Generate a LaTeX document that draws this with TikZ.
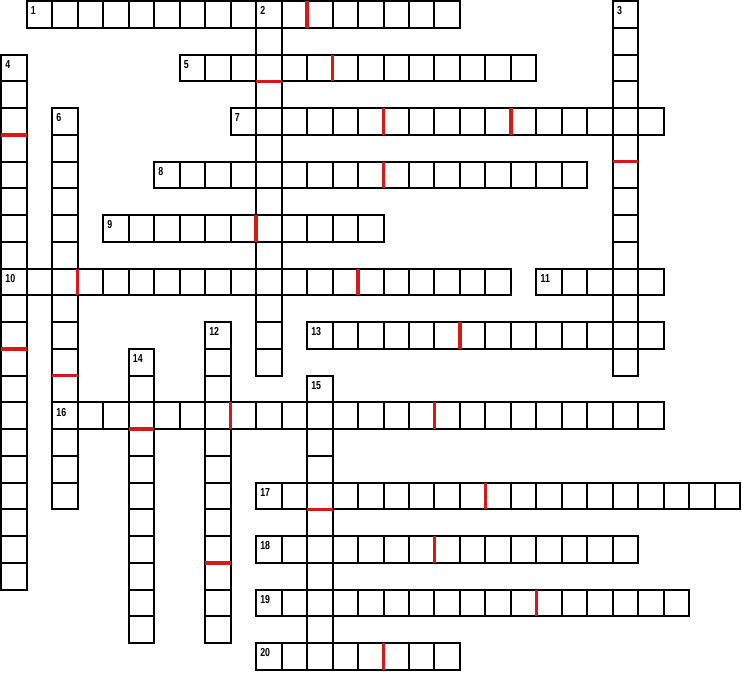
\documentclass[tikz,border=0pt]{standalone}
\usepackage{fontspec}
\usepackage{tikz}
\newfontfamily\numfont[FakeStretch=0.76]{Liberation Sans}
\definecolor{breakred}{RGB}{214,24,24}

\begin{document}
\begin{tikzpicture}[x=25.48pt,y=-26.75pt,
                        cell/.style={draw=black,line width=2pt},
                        brk/.style={draw=breakred,line width=3.5pt},
                        num/.style={anchor=north west,inner sep=0pt,xshift=4pt,yshift=-5.5pt,
                                    font=\numfont\bfseries\fontsize{11.6}{11.6}\selectfont}]
                        \useasboundingbox (-1.3pt,1pt) rectangle (740.7pt,-688pt);

                        \foreach \row/\col/\len in {0/1/17,2/7/14,4/9/17,6/6/17,8/4/11,10/0/20,10/21/5,
                                                    12/12/14,15/2/24,18/10/19,20/10/15,22/10/17,24/10/8}
                            \foreach \i in {1,...,\len}
                                \draw[cell] (\col+\i-1,\row) rectangle ++(1,1);

                        \foreach \col/\row/\len in {10/0/14,24/0/14,0/2/20,2/4/15,8/12/12,5/13/11,12/14/11}
                            \foreach \i in {1,...,\len}
                                \draw[cell] (\col,\row+\i-1) rectangle ++(1,1);

                        \foreach \row/\b in {0/12,2/13,4/15,4/20,6/15,8/10,10/3,10/14,12/18,
                                             15/9,15/17,18/19,20/17,22/21,24/15}
                            \draw[brk] (\b,\row) -- (\b,\row+1);

                        \foreach \col/\b in {10/3,24/6,0/5,0/13,2/14,8/21,5/16,12/19}
                            \draw[brk] (\col,\b) -- (\col+1,\b);

                        \foreach \k/\col/\row in {1/1/0,2/10/0,3/24/0,4/0/2,5/7/2,6/2/4,7/9/4,8/6/6,9/4/8,
                                                  10/0/10,11/21/10,12/8/12,13/12/12,14/5/13,15/12/14,
                                                  16/2/15,17/10/18,18/10/20,19/10/22,20/10/24}
                            \node[num] (n\k) at (\col,\row) {\k};
                    \end{tikzpicture}
\end{document}
